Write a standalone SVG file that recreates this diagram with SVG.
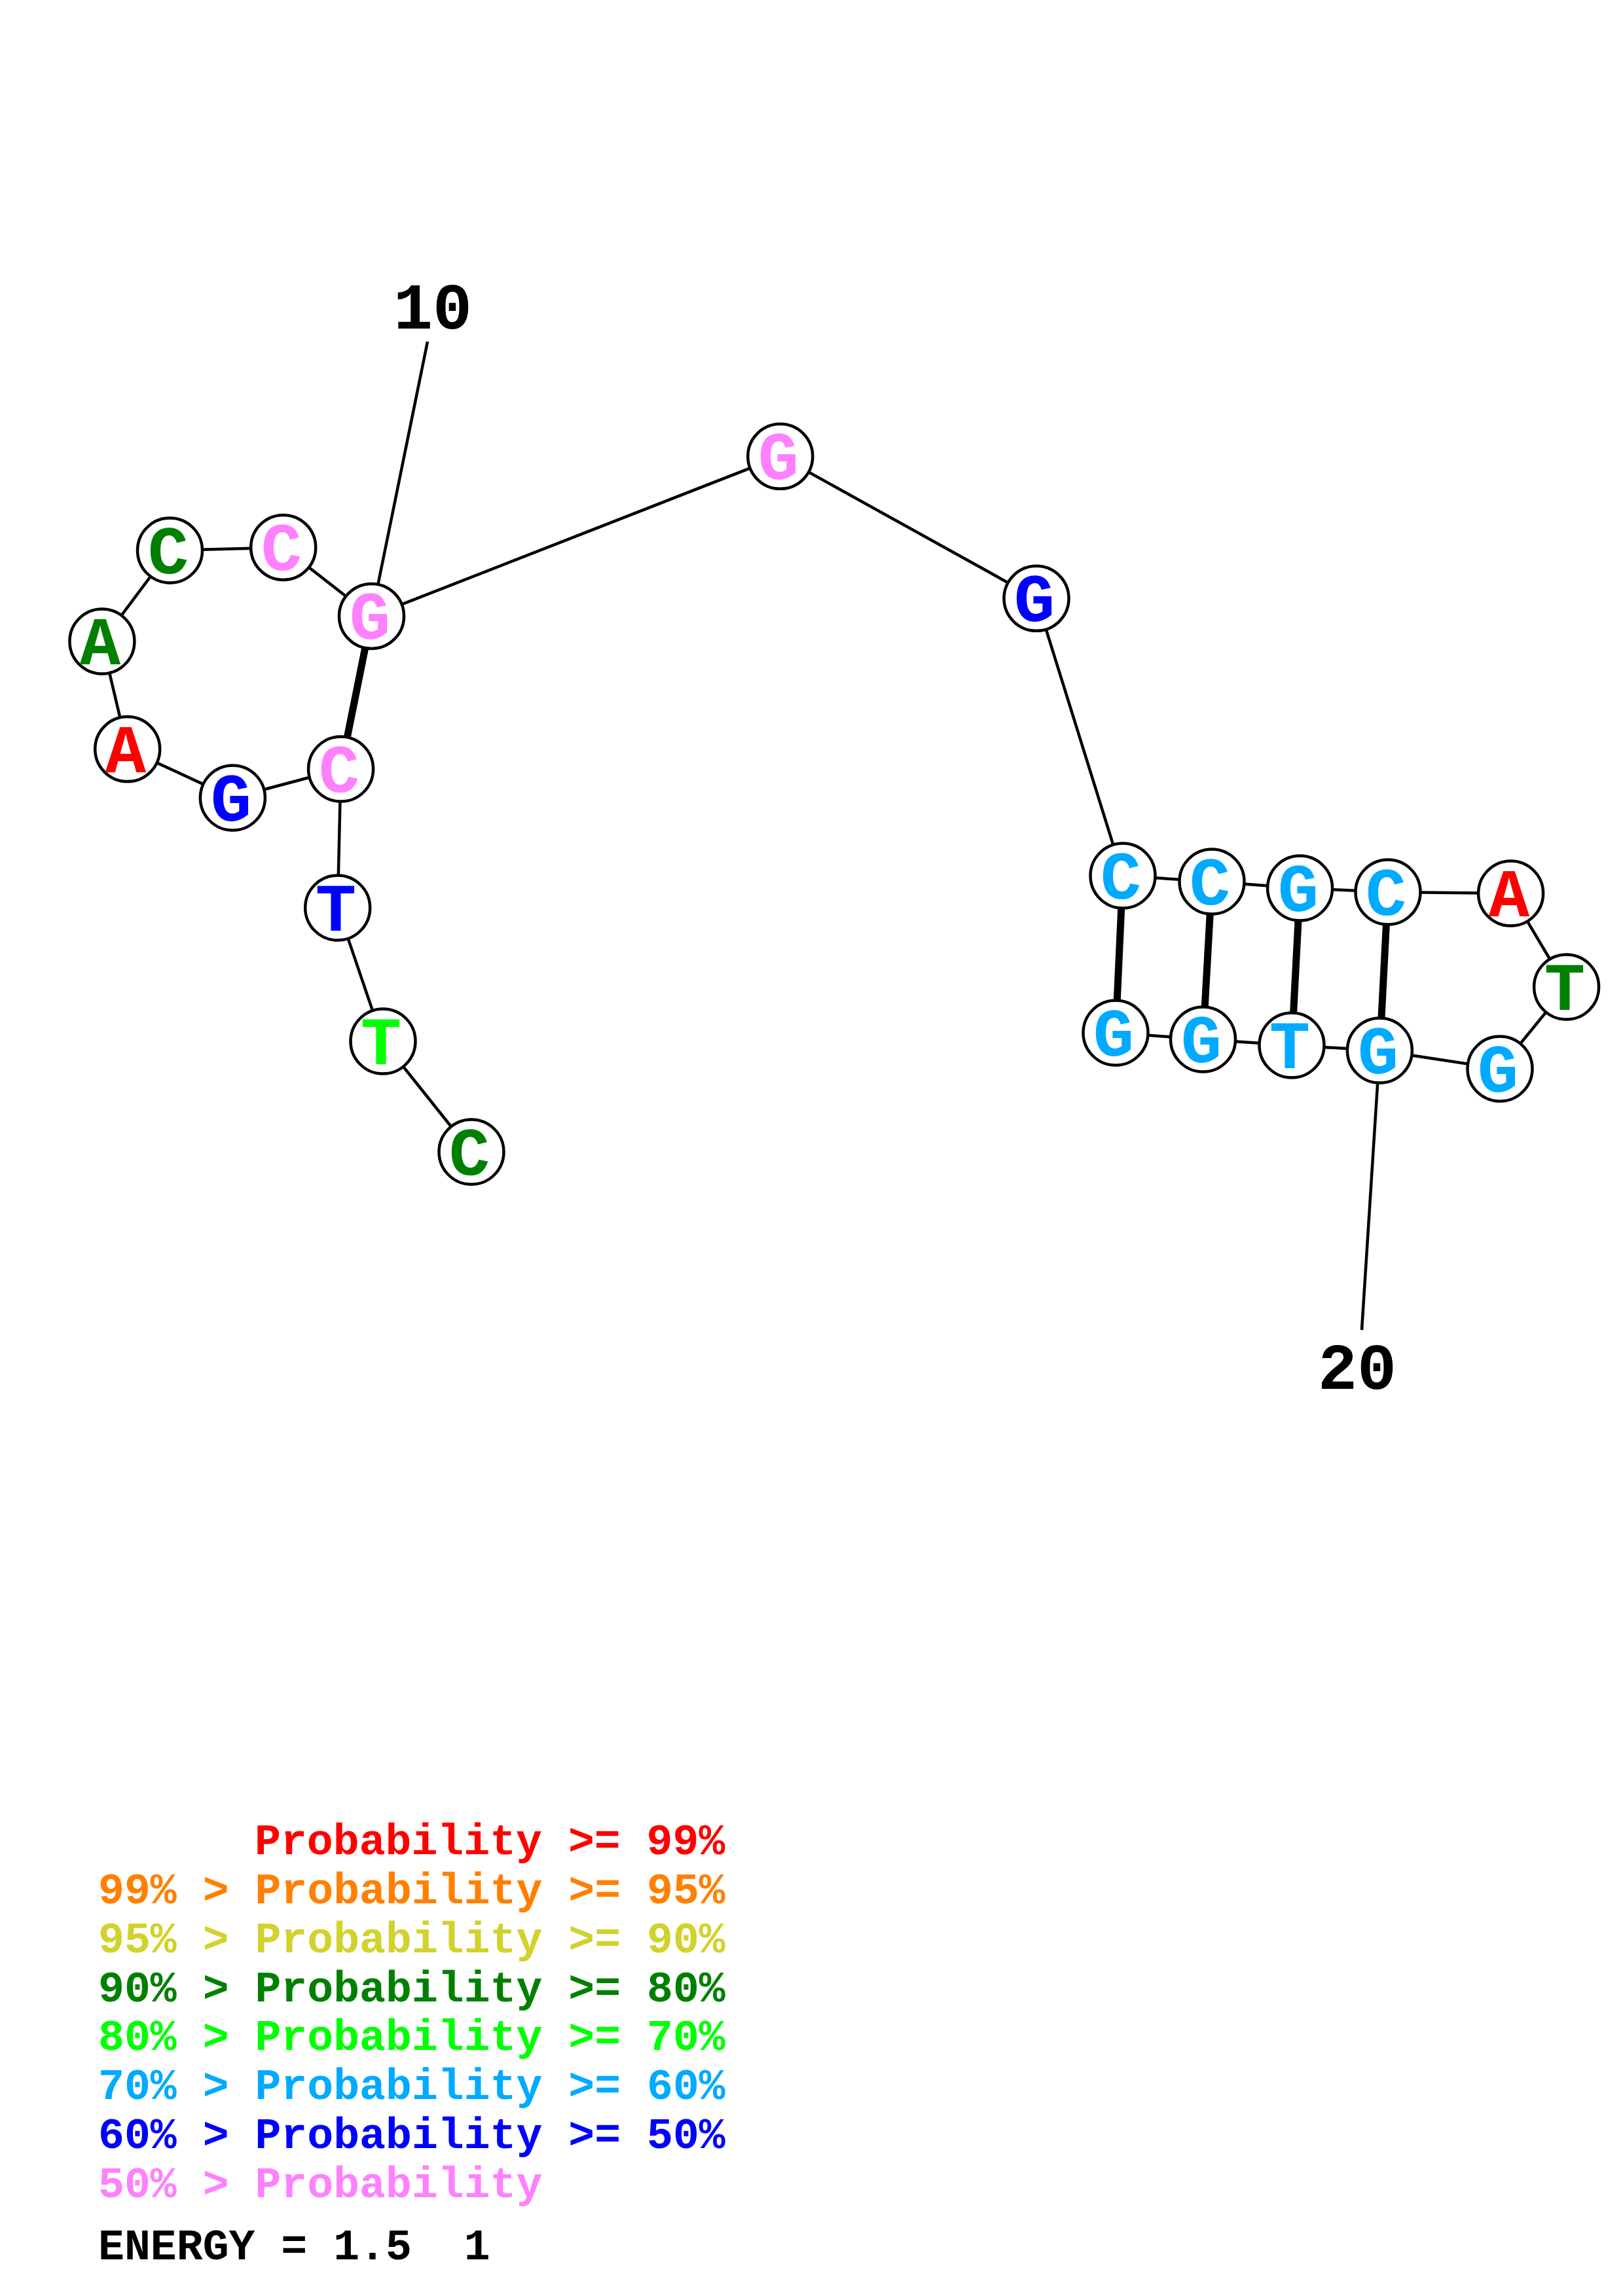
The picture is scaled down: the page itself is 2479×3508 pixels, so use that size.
<svg xmlns="http://www.w3.org/2000/svg" width="2479" height="3508" viewBox="0 0 2479 3508">
<style>
.bb{stroke:#000;stroke-width:4.5;fill:none}
.pr{stroke:#000;stroke-width:11;fill:none}
.nd circle{fill:#fff;stroke:#000;stroke-width:4.5}
.nd text{font-family:"Liberation Mono","Courier New",monospace;font-weight:bold;font-size:104px;text-anchor:middle}
.lb{font-family:"Liberation Mono","Courier New",monospace;font-weight:bold;font-size:100px;fill:#000;text-anchor:middle}
.lg{font-family:"Liberation Mono","Courier New",monospace;font-weight:bold;font-size:66.5px;white-space:pre}
.pink{fill:#FF80FF}.dg{fill:#008000}.bl{fill:#0000FF}.rd{fill:#FF0000}.lg2{fill:#00FF00}.cy{fill:#00AAFF}.or{fill:#FF8000}.ye{fill:#D2D22D}
</style>
<rect width="2479" height="3508" fill="#fff"/>
<g id="connectors">
<polyline class="bb" points="720,1760 585,1591 515.7,1387 520.6,1175 355.4,1219 194.7,1144.6 155.9,980 259.5,841 432.7,836.4 567.5,941.4 1191.8,697.3 1583,914.3 1715,1338 1851,1347 1985.6,1357 2120,1363 2307.6,1365 2392.6,1508 2291,1633 2107.4,1605 1973,1597 1837.5,1588 1704,1578"/>
<line class="bb" x1="653" y1="522" x2="567.5" y2="941.4"/>
<line class="bb" x1="2080" y1="2032" x2="2107.4" y2="1605"/>
<line class="pr" x1="520.6" y1="1175" x2="567.5" y2="941.4"/>
<line class="pr" x1="1715" y1="1338" x2="1704" y2="1578"/>
<line class="pr" x1="1851" y1="1347" x2="1837.5" y2="1588"/>
<line class="pr" x1="1985.6" y1="1357" x2="1973" y2="1597"/>
<line class="pr" x1="2120" y1="1363" x2="2107.4" y2="1605"/>
</g>
<g id="n1" class="nd"><circle cx="720" cy="1760" r="49.5"/><text x="717" y="1795" class="dg">C</text></g>
<g id="n2" class="nd"><circle cx="585" cy="1591" r="49.5"/><text x="582" y="1626" class="lg2">T</text></g>
<g id="n3" class="nd"><circle cx="515.7" cy="1387" r="49.5"/><text x="513" y="1422" class="bl">T</text></g>
<g id="n4" class="nd"><circle cx="520.6" cy="1175" r="49.5"/><text x="518" y="1210" class="pink">C</text></g>
<g id="n5" class="nd"><circle cx="355.4" cy="1219" r="49.5"/><text x="353" y="1254" class="bl">G</text></g>
<g id="n6" class="nd"><circle cx="194.7" cy="1144.6" r="49.5"/><text x="192" y="1180" class="rd">A</text></g>
<g id="n7" class="nd"><circle cx="155.9" cy="980" r="49.5"/><text x="153" y="1015" class="dg">A</text></g>
<g id="n8" class="nd"><circle cx="259.5" cy="841" r="49.5"/><text x="257" y="876" class="dg">C</text></g>
<g id="n9" class="nd"><circle cx="432.7" cy="836.4" r="49.5"/><text x="430" y="871" class="pink">C</text></g>
<g id="n10" class="nd"><circle cx="567.5" cy="941.4" r="49.5"/><text x="565" y="976" class="pink">G</text></g>
<g id="n11" class="nd"><circle cx="1191.8" cy="697.3" r="49.5"/><text x="1189" y="732" class="pink">G</text></g>
<g id="n12" class="nd"><circle cx="1583" cy="914.3" r="49.5"/><text x="1580" y="949" class="bl">G</text></g>
<g id="n13" class="nd"><circle cx="1715" cy="1338" r="49.5"/><text x="1712" y="1373" class="cy">C</text></g>
<g id="n14" class="nd"><circle cx="1851" cy="1347" r="49.5"/><text x="1848" y="1382" class="cy">C</text></g>
<g id="n15" class="nd"><circle cx="1985.6" cy="1357" r="49.5"/><text x="1983" y="1392" class="cy">G</text></g>
<g id="n16" class="nd"><circle cx="2120" cy="1363" r="49.5"/><text x="2117" y="1398" class="cy">C</text></g>
<g id="n17" class="nd"><circle cx="2307.6" cy="1365" r="49.5"/><text x="2305" y="1400" class="rd">A</text></g>
<g id="n18" class="nd"><circle cx="2392.6" cy="1508" r="49.5"/><text x="2390" y="1543" class="dg">T</text></g>
<g id="n19" class="nd"><circle cx="2291" cy="1633" r="49.5"/><text x="2288" y="1668" class="cy">G</text></g>
<g id="n20" class="nd"><circle cx="2107.4" cy="1605" r="49.5"/><text x="2105" y="1640" class="cy">G</text></g>
<g id="n21" class="nd"><circle cx="1973" cy="1597" r="49.5"/><text x="1970" y="1632" class="cy">T</text></g>
<g id="n22" class="nd"><circle cx="1837.5" cy="1588" r="49.5"/><text x="1835" y="1623" class="cy">G</text></g>
<g id="n23" class="nd"><circle cx="1704" cy="1578" r="49.5"/><text x="1701" y="1613" class="cy">G</text></g>
<g id="labels">
<text class="lb" x="661" y="502">10</text>
<text class="lb" x="2073" y="2122">20</text>
</g>
<g id="legend">
<text class="lg rd" x="389" y="2833">Probability &gt;= 99%</text>
<text class="lg or" x="150" y="2908">99% &gt; Probability &gt;= 95%</text>
<text class="lg ye" x="150" y="2983">95% &gt; Probability &gt;= 90%</text>
<text class="lg dg" x="150" y="3058">90% &gt; Probability &gt;= 80%</text>
<text class="lg lg2" x="150" y="3132">80% &gt; Probability &gt;= 70%</text>
<text class="lg cy" x="150" y="3207">70% &gt; Probability &gt;= 60%</text>
<text class="lg bl" x="150" y="3282">60% &gt; Probability &gt;= 50%</text>
<text class="lg pink" x="150" y="3357">50% &gt; Probability</text>
<text class="lg" fill="#000" x="150" y="3452">ENERGY = 1.5  1</text>
</g>
</svg>
